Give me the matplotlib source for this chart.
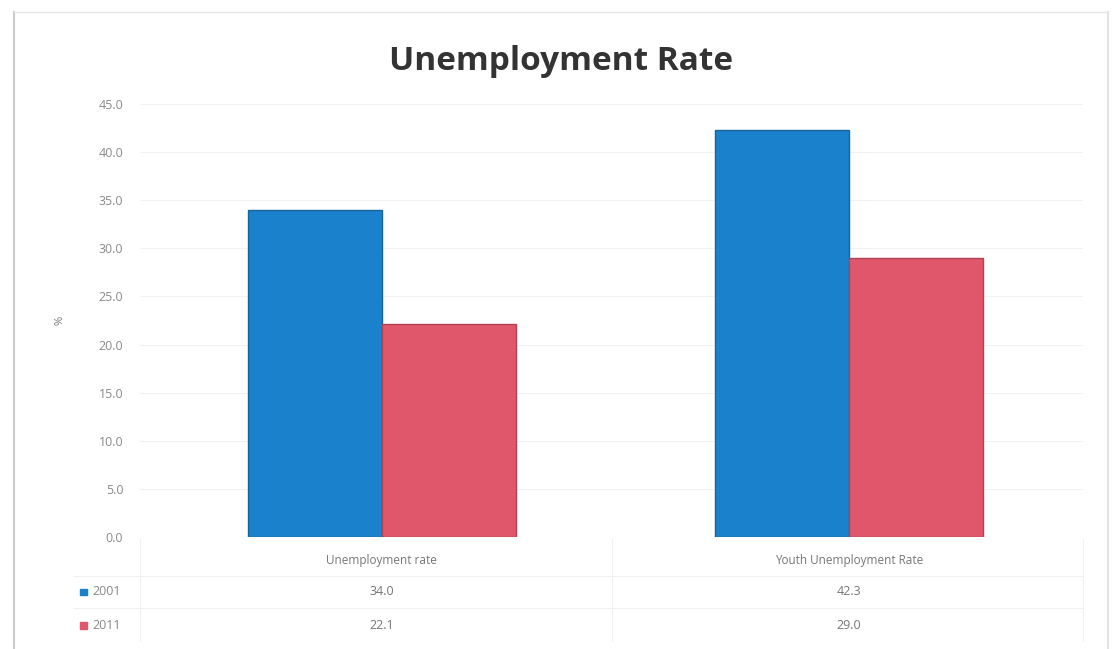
import matplotlib
matplotlib.use("Agg")
import matplotlib.pyplot as plt
from matplotlib.patches import Rectangle
from matplotlib.lines import Line2D
import matplotlib.transforms as mtransforms

categories = ["Unemployment rate", "Youth Unemployment Rate"]
years = ["2001", "2011"]
rate_2001 = [34.0, 42.3]
rate_2011 = [22.1, 29.0]
series = [rate_2001, rate_2011]
colors = ["#1a82cc", "#e0566a"]
edges = ["#15649c", "#b04252"]

plt.rcParams["font.family"] = ["Open Sans", "DejaVu Sans"]

fig = plt.figure(figsize=(11.14, 6.49), dpi=100)
ax = fig.add_axes([0.1257, 0.1726, 0.8465, 0.6672])

width = 0.287
xs = list(range(len(categories)))
for k, vals in enumerate(series):
    offs = [x + (k - 0.5) * width for x in xs]
    ax.bar(offs, vals, width=width, color=colors[k], edgecolor=edges[k],
           linewidth=1.0, zorder=3)

ax.set_xlim(-0.518, 1.502)
ax.set_ylim(0, 45)
ax.set_yticks([i * 5 for i in range(10)])
ax.set_yticklabels(["%.1f" % (i * 5) for i in range(10)], color="#8a8a8a", fontsize=9)
ax.tick_params(axis="y", length=0, pad=12)
ax.set_xticks([])
ax.grid(axis="y", color="#f2f2f2", linewidth=0.8, zorder=0)
for s in ax.spines.values():
    s.set_visible(False)
ax.set_ylabel("%", color="#777777", fontsize=8, labelpad=24)

fig.suptitle("Unemployment Rate", x=0.504, y=0.93, fontsize=24,
             fontweight="bold", color="#333333")

# data table under the axis
trans = mtransforms.blended_transform_factory(ax.transData, ax.transAxes)
for i, cat in enumerate(categories):
    ax.text(i, -0.055, cat, transform=trans, ha="center", va="center",
            fontsize=8.5, color="#777777", clip_on=False)
    for k, vals in enumerate(series):
        ax.text(i, -0.127 - k * 0.078, "%.1f" % vals[i], transform=trans,
                ha="center", va="center", fontsize=9, color="#777777", clip_on=False)

for k, yr in enumerate(years):
    y = -0.127 - k * 0.078
    ax.add_patch(Rectangle((-0.064, y - 0.008), 0.008, 0.016, transform=ax.transAxes,
                           color=colors[k], clip_on=False))
    ax.text(-0.05, y, yr, transform=ax.transAxes, ha="left", va="center",
            fontsize=9, color="#888888", clip_on=False)

line_kw = dict(color="#f0f0f0", linewidth=0.8, clip_on=False)
for xa in [0.0, 0.5, 1.0]:
    ax.add_line(Line2D([xa, xa], [-0.005, -0.24], transform=ax.transAxes, **line_kw))
for ya in [-0.09, -0.165]:
    ax.add_line(Line2D([-0.07, 1.0], [ya, ya], transform=ax.transAxes, **line_kw))

# outer frame
fig.add_artist(Line2D([14 / 1114, 14 / 1114], [0, 1 - 12 / 649], transform=fig.transFigure,
                      color="#cccccc", linewidth=1.5))
fig.add_artist(Line2D([1108 / 1114, 1108 / 1114], [0, 1 - 12 / 649], transform=fig.transFigure,
                      color="#e4e4e4", linewidth=1.5))
fig.add_artist(Line2D([14 / 1114, 1108 / 1114], [1 - 12 / 649, 1 - 12 / 649],
                      transform=fig.transFigure, color="#e8e8e8", linewidth=1.0))

fig.savefig("out.png", dpi=100)
